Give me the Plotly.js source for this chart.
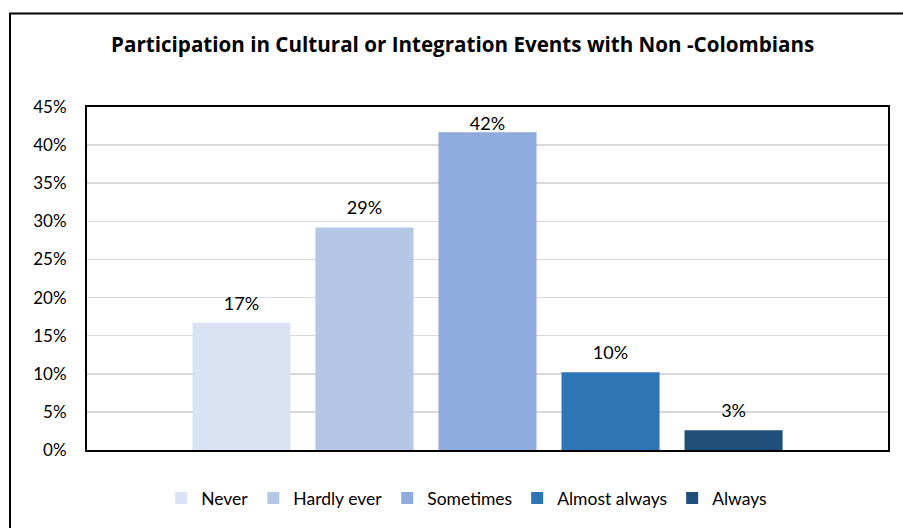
<!DOCTYPE html>
<html>
<head>
<meta charset="utf-8">
<script src="https://cdn.plot.ly/plotly-3.0.1.min.js"></script>
<style>
  html, body { margin: 0; padding: 0; background: #fff; }
  #chart { width: 903px; height: 528px; }
</style>
</head>
<body>
<div id="chart"></div>
<script>
const titleText = "Participation in Cultural or Integration Events with Non -Colombians";
const seriesNames = ["Never", "Hardly ever", "Sometimes", "Almost always", "Always"];
const seriesValues = [0.167, 0.292, 0.417, 0.102, 0.026];
const seriesColors = ["#DAE3F3", "#B4C7E7", "#8FAADC", "#2E75B6", "#1F4E79"];
const category = ["All respondents"];
const tickVals = [0, 0.05, 0.10, 0.15, 0.20, 0.25, 0.30, 0.35, 0.40, 0.45];
const tickText = ["0%", "5%", "10%", "15%", "20%", "25%", "30%", "35%", "40%", "45%"];

const FONT = "Lato, 'Open Sans', sans-serif";
const TITLE_FONT = "'Open Sans', Lato, sans-serif";

const traces = seriesNames.map((name, i) => ({
  type: "bar",
  name: name,
  x: category,
  y: [seriesValues[i]],
  marker: { color: seriesColors[i], line: { width: 0 } },
  texttemplate: "%{y:.0%}",
  textposition: "outside",
  cliponaxis: false,
  textfont: { family: FONT, size: 18, color: "#000000" },
  hoverinfo: "skip"
}));

const layout = {
  width: 903,
  height: 528,
  margin: { l: 87, r: 15, t: 107, b: 76 },
  paper_bgcolor: "#ffffff",
  plot_bgcolor: "#ffffff",
  font: { family: FONT, size: 16, color: "#000000" },
  title: {
    text: "<b>" + titleText + "</b>",
    font: { family: TITLE_FONT, size: 20.6, color: "#000000" },
    xref: "paper",
    x: 0.469, xanchor: "center",
    y: 0.915, yanchor: "middle"
  },
  barmode: "group",
  bargap: 0.232,
  bargroupgap: 0.203,
  showlegend: true,
  legend: {
    orientation: "h",
    x: 0.474, xanchor: "center",
    y: -0.14, yanchor: "middle",
    font: { family: FONT, size: 17.5, color: "#000000" },
    itemwidth: 30,
    traceorder: "normal"
  },
  xaxis: {
    type: "category",
    showticklabels: false,
    ticks: "",
    showgrid: false,
    showline: true, mirror: true, linecolor: "#000000", linewidth: 2,
    zeroline: false,
    fixedrange: true
  },
  yaxis: {
    range: [0, 0.45],
    tickvals: tickVals,
    ticktext: tickText,
    ticks: "",
    ticklabelstandoff: 15,
    tickfont: { family: FONT, size: 17, color: "#000000" },
    showgrid: true, gridcolor: "#D9D9D9", gridwidth: 1.5,
    showline: true, mirror: true, linecolor: "#000000", linewidth: 2,
    zeroline: false,
    fixedrange: true
  },
  shapes: [{
    type: "rect", xref: "paper", yref: "paper",
    x0: -0.0961, x1: 1.03, y0: -0.27, y1: 1.2725,
    line: { color: "#000000", width: 2 },
    fillcolor: "rgba(0,0,0,0)",
    layer: "below"
  }]
};

Plotly.newPlot("chart", traces, layout, { displayModeBar: false, staticPlot: true }).then(gd => {
  // lift the value labels a little above the bars (as in the original), but keep them inside the plot frame
  const plotTop = gd._fullLayout._size.t;
  const chartTop = gd.getBoundingClientRect().top;
  gd.querySelectorAll(".bartext").forEach(t => {
    const r = t.getBoundingClientRect();
    const natural = (r.top + r.bottom) / 2 - chartTop;
    const target = Math.max(natural - 6, plotTop + 16);
    const shift = natural - target;
    if (Math.abs(shift) > 0.1) {
      const tr = t.getAttribute("transform") || "";
      t.setAttribute("transform", "translate(0," + (-shift) + ") " + tr);
    }
  });
});
</script>
</body>
</html>
